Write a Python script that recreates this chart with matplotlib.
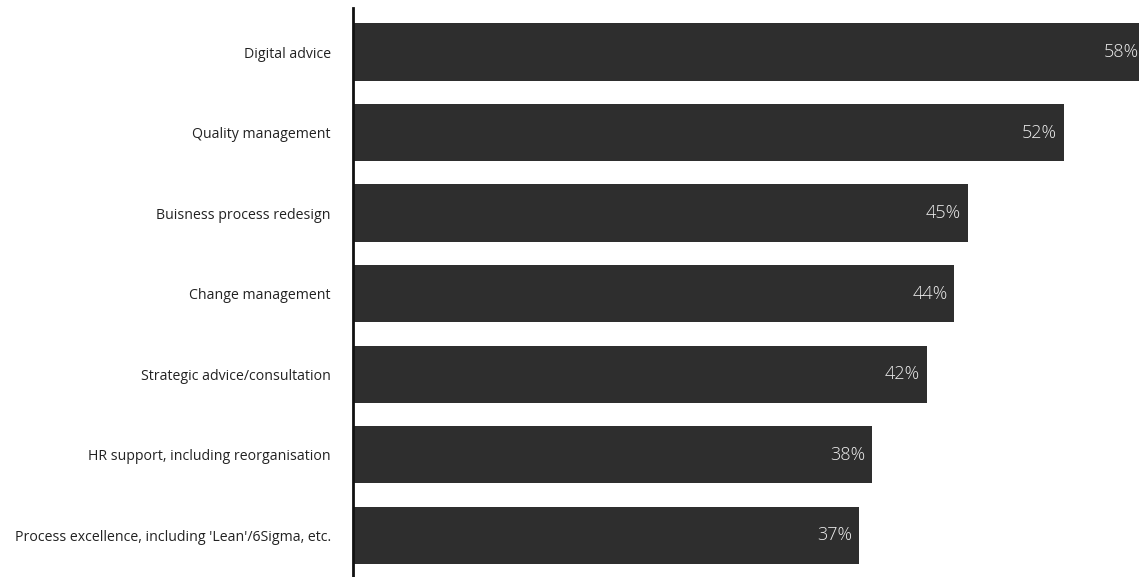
import matplotlib
matplotlib.use("Agg")
import matplotlib.pyplot as plt

categories = ["Digital advice",
              "Quality management",
              "Buisness process redesign",
              "Change management",
              "Strategic advice/consultation",
              "HR support, including reorganisation",
              "Process excellence, including 'Lean'/6Sigma, etc."]
values = [58, 52, 45, 44, 42, 38, 37]

bar_color = "#2e2e2e"

fig = plt.figure(figsize=(11.39, 5.77), dpi=100)
ax = fig.add_axes([353/1139, 0, 1 - 353/1139, (577 - 8)/577])

pos = list(range(len(categories)))
ax.barh(pos, values, height=0.71, color=bar_color, zorder=2)

for y, v in zip(pos, values):
    ax.annotate(f"{v}%", xy=(v, y), xytext=(-5, 0), textcoords="offset points",
                ha="right", va="center", color="#ececec", fontsize=13,
                family="Open Sans", fontweight="light", annotation_clip=False)

ax.set_xlim(0, 57.5)
ax.set_ylim(6.52, -0.547)
ax.set_yticks(pos)
ax.set_yticklabels(categories, family="Open Sans", fontsize=10.2, color="#222222")
ax.tick_params(axis="y", length=0, pad=16)
ax.set_xticks([])

for s in ["top", "right", "bottom"]:
    ax.spines[s].set_visible(False)
ax.spines["left"].set_linewidth(2)
ax.spines["left"].set_color("#111111")

fig.savefig("out.png", dpi=100)
